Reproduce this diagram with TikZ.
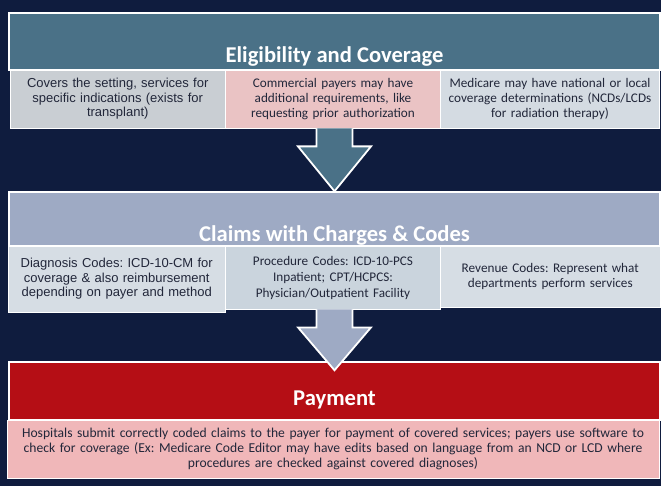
\documentclass[tikz,border=0pt]{standalone}
\usepackage{fontspec}
\setmainfont{Carlito}
\newfontfamily\arialfont{Liberation Sans}
\usetikzlibrary{calc}
\frenchspacing

\definecolor{bgnavy}{HTML}{0F1C3E}
\definecolor{steel}{HTML}{4A7187}
\definecolor{lavender}{HTML}{9EAAC4}
\definecolor{payred}{HTML}{B50E15}
\definecolor{greycell}{HTML}{C9CED3}
\definecolor{pinkcell}{HTML}{EAC3C4}
\definecolor{bluecell}{HTML}{D4DBE2}
\definecolor{palecell}{HTML}{D6DDE4}
\definecolor{midcell}{HTML}{CAD4DD}
\definecolor{paypink}{HTML}{F0B7B9}
\definecolor{bodytext}{HTML}{22273A}

% block arrow hanging from #1 down to the tip #2, filled with #3
\newcommand\blockarrow[3]{%
  \fill[#3] ($(#1)+(-18,0)$) -- ($(#1)+(-18,18)$) -- ($(#1)+(-36.5,18)$) -- (#2)
    -- ($(#1)+(36.5,18)$) -- ($(#1)+(18,18)$) -- ($(#1)+(18,0)$) -- cycle;
  \draw[white, line width=1.8bp, line join=miter]
    ($(#1)+(-18,0)$) -- ($(#1)+(-18,18)$) -- ($(#1)+(-36.5,18)$) -- (#2)
    -- ($(#1)+(36.5,18)$) -- ($(#1)+(18,18)$) -- ($(#1)+(18,0)$);
}

\tikzset{
  band/.style={draw=white, line width=1.5bp, inner sep=0pt},
  cell/.style={draw=white, line width=0.8bp, inner sep=2bp, align=center,
    text=bodytext},
  calibritext/.style={font=\fontsize{13.2bp}{15bp}\selectfont},
  arialtext/.style={font=\arialfont\fontsize{13bp}{14.6bp}\selectfont},
  title/.style={anchor=base, text=white, inner sep=0pt,
    font=\bfseries\fontsize{22.6bp}{26bp}\selectfont},
}

\begin{document}
\begin{tikzpicture}[x=1bp, y=-1bp]
\fill[bgnavy] (0,0) rectangle (661,486);
\useasboundingbox (0,0) rectangle (661,486);

% Eligibility and Coverage
\node[band, fill=steel, minimum width=651bp, minimum height=57bp] (h1) at (334.5,41.5) {};
\node[title] (t1) at (334.5,62.5) {Eligibility and Coverage};
\node[cell, arialtext, fill=greycell, minimum width=215.5bp, minimum height=58bp, text width=205bp] (c11) at (117.75,99)
  {Covers the setting, services for\\specific indications (exists for\\transplant)};
\node[cell, calibritext, fill=pinkcell, minimum width=215bp, minimum height=58bp, text width=205bp] (c12) at (333,99)
  {Commercial payers may have\\additional requirements, like\\requesting prior authorization};
\node[cell, calibritext, fill=bluecell, minimum width=219bp, minimum height=58bp, text width=209bp] (c13) at (550,99)
  {Medicare may have national or local\\coverage determinations (NCDs/LCDs\\for radiation therapy)};

% Claims with Charges & Codes
\node[band, fill=lavender, minimum width=651bp, minimum height=54bp] (h2) at (334.5,219) {};
\node[title] (t2) at (334.5,241.5) {Claims with Charges \& Codes};
\node[cell, arialtext, fill=palecell, minimum width=217.5bp, minimum height=66bp, text width=207bp] (c21) at (116.75,279)
  {Diagnosis Codes: ICD-10-CM for\\coverage \& also reimbursement\\depending on payer and method};
\node[cell, calibritext, fill=midcell, minimum width=215bp, minimum height=63bp, text width=205bp,
  font=\fontsize{13.2bp}{16bp}\selectfont] (c22) at (333,277.5)
  {Procedure Codes: ICD-10-PCS\\Inpatient; CPT/HCPCS:\\Physician/Outpatient Facility};
\node[cell, calibritext, fill=palecell, minimum width=219.5bp, minimum height=61bp, text width=209bp] (c23) at (550.25,276.5)
  {Revenue Codes: Represent what\\departments perform services};

% Payment
\node[band, fill=payred, minimum width=651bp, minimum height=58bp] (h3) at (334.5,391) {};
\node[title] (t3) at (334.5,405.5) {Payment};
\node[cell, calibritext, fill=paypink, minimum width=652bp, minimum height=58bp, text width=645bp,
  font=\fontsize{13.6bp}{15bp}\selectfont] (c31) at (333,449)
  {Hospitals submit correctly coded claims to the payer for payment of covered services; payers use software to\\
   check for coverage (Ex: Medicare Code Editor may have edits based on language from an NCD or LCD where\\
   procedures are checked against covered diagnoses)};

% flow arrows between the stages
\coordinate (a1top) at ($(c12.south -| h1.south)$);
\blockarrow{a1top}{h2.north}{steel}
\coordinate (a2top) at ($(c22.south -| h2.south)$);
\coordinate (a2tip) at ($(h3.north)+(0,9)$);
\blockarrow{a2top}{a2tip}{lavender}
\end{tikzpicture}
\end{document}
